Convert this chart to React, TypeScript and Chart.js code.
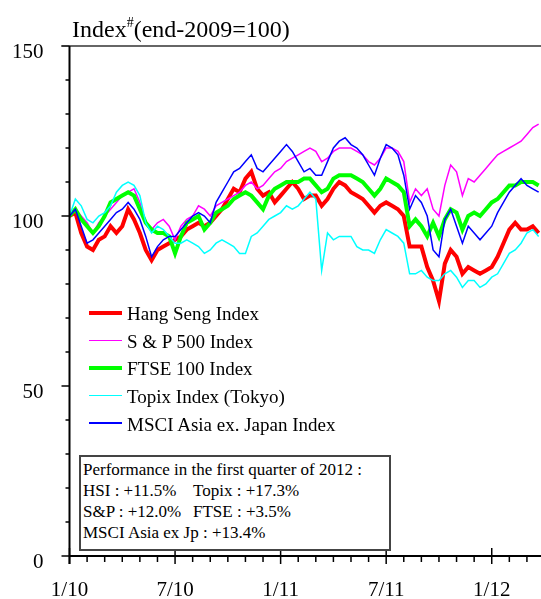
import React, { useEffect, useRef } from "react";
import { Chart, registerables } from "chart.js";
Chart.register(...registerables);

const FONT = '"Liberation Serif", "Times New Roman", Times, serif';

// x ticks (month index since Jan 2010) and their labels
const tickMonths = [0, 6, 12, 18, 24];
const tickLabels = ["1/10", "7/10", "1/11", "7/11", "1/12"];
const yTicks = [0, 50, 100, 150];

const seriesNames = [
  "Hang Seng Index",
  "S & P 500 Index",
  "FTSE 100 Index",
  "Topix Index (Tokyo)",
  "MSCI Asia ex. Japan Index",
];

// Values sampled every ~10 days (1/3 month) from 1/10
const hangSeng = [
  100, 101, 95, 91, 90, 93, 94, 97, 95, 97,
  102, 99, 95, 90, 87, 90, 91, 92, 93, 94,
  96, 97, 98, 97, 98, 100, 102, 105, 108, 107,
  111, 113, 108, 106, 107, 104, 106, 108, 110, 108,
  105, 106, 106, 103, 105, 108, 110, 109, 107, 106,
  105, 103, 101, 103, 104, 103, 102, 100, 91, 91,
  91, 85, 81, 75, 86, 90, 88, 83, 85, 84,
  83, 84, 85, 88, 92, 96, 98, 96, 96, 97,
  95,
];
const sp500 = [
  100, 102, 100, 98, 95, 98, 100, 102, 104, 106,
  107, 108, 104, 98, 96, 98, 99, 97, 93, 97,
  99, 100, 103, 102, 100, 103, 104, 105, 106, 107,
  109, 110, 108, 109, 111, 113, 114, 116, 117, 118,
  119, 120, 119, 116, 117, 119, 120, 120, 120, 119,
  118, 116, 115, 117, 120, 120, 119, 116, 104, 108,
  106, 108, 102, 100, 109, 115, 113, 106, 111, 110,
  112, 114, 116, 118, 119, 120, 121, 122, 124, 126,
  127,
];
const ftse100 = [
  100, 102, 99, 97, 95, 97, 100, 104, 105, 106,
  107, 106, 102, 98, 96, 95, 95, 94, 89, 94,
  98, 99, 100, 96, 98, 101, 102, 103, 105, 106,
  107, 106, 104, 102, 106, 108, 109, 110, 110, 110,
  111, 111, 109, 107, 108, 111, 112, 112, 112, 111,
  110, 108, 106, 108, 111, 110, 109, 107, 97, 99,
  97, 94, 98, 94, 99, 102, 101, 96, 100, 101,
  100, 102, 104, 105, 107, 109, 109, 110, 110, 110,
  109,
];
const topix = [
  100, 105, 103, 99, 98, 100, 101, 103, 107, 109,
  110, 109, 106, 98, 95, 97, 96, 94, 92, 92,
  93, 92, 91, 89, 90, 92, 93, 92, 91, 89,
  89, 94, 95, 97, 99, 100, 101, 103, 102, 103,
  105, 107, 105, 84, 95, 93, 94, 94, 94, 91,
  90, 90, 89, 93, 96, 95, 94, 92, 83, 83,
  84, 82, 81, 81, 83, 84, 82, 79, 81, 81,
  79, 80, 82, 83, 86, 89, 90, 92, 95, 96,
  94,
];
const msciAsiaExJp = [
  100, 102, 97, 92, 93, 95, 97, 99, 101, 102,
  104, 102, 99, 94, 88, 91, 93, 94, 94, 96,
  98, 100, 101, 100, 98, 104, 107, 110, 113, 114,
  116, 118, 114, 113, 115, 117, 119, 121, 119, 116,
  113, 114, 112, 112, 116, 120, 122, 123, 121, 120,
  118, 115, 112, 117, 121, 120, 118, 112, 102, 106,
  104, 100, 90, 88, 99, 102, 97, 92, 97, 95,
  93, 95, 97, 101, 104, 107, 109, 111, 109, 108,
  107,
];

const perfLines = [
  ["Performance in the first quarter of 2012 :", ""],
  ["HSI : +11.5%", "Topix : +17.3%"],
  ["S&P : +12.0%", "FTSE : +3.5%"],
  ["MSCI Asia ex Jp : +13.4%", ""],
];

const months = hangSeng.map((_, k) => k / 3);
const allSeries = [hangSeng, sp500, ftse100, topix, msciAsiaExJp];
const styles = [
  { color: "#FF0000", width: 4 },
  { color: "#FF00FF", width: 1.5 },
  { color: "#00FF00", width: 4 },
  { color: "#00FFFF", width: 1.5 },
  { color: "#0000FF", width: 1.5 },
];

const axisPlugin = {
  id: "axisDecor",
  afterDraw(chart: any) {
    const { ctx, chartArea } = chart;
    const xs = chart.scales.x;
    const ys = chart.scales.y;
    const L = chartArea.left;
    const R = chartArea.right;
    const T = chartArea.top;
    const B = chartArea.bottom;
    ctx.save();
    ctx.strokeStyle = "#000";
    // y ticks
    ctx.lineWidth = 1.5;
    for (let v = 0; v <= 150; v += 10) {
      const py = ys.getPixelForValue(v);
      const major = v % 50 === 0;
      ctx.beginPath();
      ctx.moveTo(L - (major ? 8 : 4), py);
      ctx.lineTo(L, py);
      ctx.stroke();
    }
    // x ticks
    for (let m = 0; m <= 26; m++) {
      const px = xs.getPixelForValue(m);
      const major = m % 6 === 0;
      ctx.beginPath();
      ctx.moveTo(px, major ? B - 8 : B);
      ctx.lineTo(px, major ? B + 8 : B + 6);
      ctx.stroke();
    }
    // top frame
    ctx.strokeStyle = "#333";
    ctx.lineWidth = 1.5;
    ctx.beginPath();
    ctx.moveTo(L - 8, T);
    ctx.lineTo(R, T);
    ctx.stroke();
    // axes
    ctx.strokeStyle = "#000";
    ctx.lineWidth = 2;
    ctx.beginPath();
    ctx.moveTo(L, T);
    ctx.lineTo(L, B + 8);
    ctx.moveTo(L, B);
    ctx.lineTo(R, B);
    ctx.stroke();
    ctx.restore();
  },
};

export default function App() {
  const ref = useRef<HTMLCanvasElement>(null);
  useEffect(() => {
    const chart = new Chart(ref.current as HTMLCanvasElement, {
      type: "line",
      data: {
        datasets: allSeries.map((vals, i) => ({
          label: seriesNames[i],
          data: vals.map((v, k) => ({ x: months[k], y: v })),
          borderColor: styles[i].color,
          backgroundColor: styles[i].color,
          borderWidth: styles[i].width,
          pointRadius: 0,
          tension: 0,
          fill: false,
          order: 5 - i,
        })),
      },
      options: {
        responsive: true,
        maintainAspectRatio: false,
        animation: false,
        layout: { padding: { top: 46, left: 0, right: 0, bottom: 0 } },
        plugins: { legend: { display: false }, tooltip: { enabled: false } },
        scales: {
          x: {
            type: "linear",
            min: 0,
            max: 26.8,
            afterBuildTicks: (s: any) => {
              s.ticks = tickMonths.map((v) => ({ value: v }));
            },
            afterFit: (s: any) => {
              s.height = 43;
            },
            grid: { display: false, drawTicks: false },
            border: { display: false },
            ticks: {
              autoSkip: false,
              maxRotation: 0,
              minRotation: 0,
              padding: 22,
              color: "#000",
              font: { family: FONT, size: 21 },
              callback: (v: any) => {
                const i = tickMonths.indexOf(Number(v));
                return i >= 0 ? tickLabels[i] : "";
              },
            },
          },
          y: {
            min: 0,
            max: 150,
            afterBuildTicks: (s: any) => {
              s.ticks = yTicks.map((v) => ({ value: v }));
            },
            afterFit: (s: any) => {
              s.width = 69.5;
            },
            grid: { display: false, drawTicks: false },
            border: { display: false },
            ticks: {
              padding: 26,
              labelOffset: 6,
              color: "#000",
              font: { family: FONT, size: 21 },
              callback: (v: any) => String(v),
            },
          },
        },
      },
      plugins: [axisPlugin],
    });
    return () => chart.destroy();
  }, []);

  const legendTop = 312.7;
  const legendGap = 27.6;

  return (
    <div
      style={{
        position: "absolute",
        left: 0,
        top: 0,
        width: 541,
        height: 599,
        background: "#fff",
        fontFamily: FONT,
        color: "#000",
      }}
    >
      <canvas ref={ref} style={{ position: "absolute", left: 0, top: 0 }} />
      <div
        style={{
          position: "absolute",
          left: 72,
          top: 17,
          fontSize: 24,
          lineHeight: "24px",
          whiteSpace: "nowrap",
        }}
      >
        Index
        <span style={{ fontSize: 14, position: "relative", top: -10 }}>#</span>
        (end-2009=100)
      </div>
      {seriesNames.map((name, i) => (
        <React.Fragment key={name}>
          <div
            style={{
              position: "absolute",
              left: 89,
              width: 33,
              top: legendTop + i * legendGap - styles[i].width / 2,
              height: styles[i].width,
              background: styles[i].color,
            }}
          />
          <div
            style={{
              position: "absolute",
              left: 127,
              top: legendTop + i * legendGap - 8.6,
              fontSize: 19,
              lineHeight: "19px",
              whiteSpace: "nowrap",
            }}
          >
            {name}
          </div>
        </React.Fragment>
      ))}
      <div
        style={{
          position: "absolute",
          left: 79,
          top: 455,
          width: 312,
          height: 96,
          border: "2px solid #444",
          boxSizing: "border-box",
          background: "#fff",
        }}
      />
      {perfLines.map((pair, i) => (
        <React.Fragment key={i}>
          <div
            style={{
              position: "absolute",
              left: 83,
              top: 460.8 + i * 21.2,
              fontSize: 17,
              lineHeight: "17px",
              whiteSpace: "nowrap",
            }}
          >
            {pair[0]}
          </div>
          {pair[1] ? (
            <div
              style={{
                position: "absolute",
                left: 193,
                top: 460.8 + i * 21.2,
                fontSize: 17,
                lineHeight: "17px",
                whiteSpace: "nowrap",
              }}
            >
              {pair[1]}
            </div>
          ) : null}
        </React.Fragment>
      ))}
    </div>
  );
}
